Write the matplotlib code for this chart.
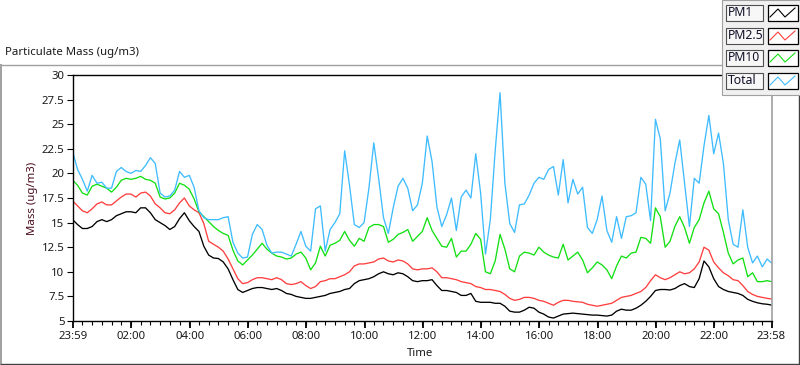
import numpy as np
import matplotlib
matplotlib.use('Agg')
import matplotlib.pyplot as plt
from matplotlib.patches import Rectangle

# ---------------- data (minutes after 23:59, 10-minute readings) ----------------
minutes = list(range(0, 1440, 10)) + [1439]

pm1 = [15.3, 14.8, 14.4, 14.4, 14.6, 15.1, 15.3, 15.1, 15.3, 15.7,
       15.9, 16.1, 16.1, 16.0, 16.5, 16.5, 16.0, 15.3, 15.0, 14.7,
       14.3, 14.6, 15.4, 16.0, 15.2, 14.6, 14.1, 12.6, 11.7, 11.4,
       11.35, 11.0, 10.3, 9.2, 8.2, 7.9, 8.1, 8.3, 8.4, 8.4,
       8.3, 8.2, 8.3, 8.1, 7.8, 7.7, 7.5, 7.4, 7.3, 7.3,
       7.4, 7.5, 7.6, 7.8, 7.9, 8.0, 8.2, 8.3, 8.8, 9.1,
       9.2, 9.3, 9.5, 9.8, 10.0, 9.8, 9.7, 9.9, 9.8, 9.5,
       9.1, 9.0, 9.1, 9.1, 9.2, 8.6, 8.1, 8.1, 8.0, 7.9,
       7.6, 7.6, 7.8, 7.0, 6.9, 6.9, 6.9, 6.8, 6.8, 6.5,
       6.0, 5.9, 5.9, 6.1, 6.4, 6.3, 5.9, 5.7, 5.4, 5.3,
       5.5, 5.7, 5.75, 5.8, 5.75, 5.7, 5.65, 5.6, 5.6, 5.55,
       5.5, 5.6, 6.0, 6.2, 6.1, 6.1, 6.3, 6.6, 7.0, 7.5,
       8.1, 8.2, 8.2, 8.15, 8.3, 8.6, 8.8, 8.5, 8.4, 9.3,
       11.1, 10.5, 9.3, 8.5, 8.2, 8.0, 7.9, 7.8, 7.6, 7.2,
       7.0, 6.85, 6.75, 6.7, 6.62]

pm25 = [17.2, 16.7, 16.2, 16.0, 16.4, 16.9, 17.1, 16.8, 16.8, 17.2,
        17.6, 17.9, 17.9, 17.6, 18.0, 18.1, 17.7, 16.9, 16.5, 16.0,
        15.9, 16.3, 17.0, 17.5, 16.7, 16.3, 16.0, 14.9, 13.1, 12.8,
        12.5, 12.1, 11.3, 10.3, 9.3, 8.8, 8.9, 9.2, 9.4, 9.4,
        9.3, 9.2, 9.4, 9.2, 8.8, 8.7, 8.8, 9.0, 8.6, 8.3,
        8.5, 9.0, 9.1, 9.3, 9.3, 9.5, 9.7, 10.0, 10.6, 10.8,
        10.8, 10.9, 11.0, 11.3, 11.4, 11.1, 11.0, 11.2, 11.1, 10.8,
        10.3, 10.2, 10.3, 10.3, 10.4, 10.0, 9.4, 9.4, 9.3, 9.2,
        9.0, 8.9, 8.8, 8.5, 8.4, 8.2, 8.2, 8.1, 8.0, 7.7,
        7.3, 7.1, 7.2, 7.4, 7.4, 7.3, 7.1, 7.0, 6.8, 6.6,
        6.9, 7.1, 7.1, 7.0, 6.95, 6.9, 6.7, 6.6, 6.5, 6.6,
        6.7, 6.8, 7.1, 7.4, 7.5, 7.6, 7.8, 8.0, 8.4, 9.1,
        9.7, 9.4, 9.2, 9.4, 9.7, 10.0, 9.8, 9.9, 10.3, 11.0,
        12.5, 12.2, 11.0, 10.4, 9.9, 9.6, 9.2, 9.1, 8.6, 8.0,
        7.7, 7.5, 7.4, 7.3, 7.24]

pm10 = [19.3, 18.8, 18.0, 17.8, 18.7, 18.9, 18.7, 18.5, 18.1, 18.6,
        19.3, 19.5, 19.4, 19.5, 19.7, 19.4, 19.3, 19.0, 17.6, 17.4,
        17.5, 18.0, 19.0, 18.8, 18.4, 17.4, 16.1, 15.6, 15.1, 14.6,
        14.2, 13.9, 13.7, 12.2, 11.1, 10.7, 11.2, 11.7, 12.3, 12.9,
        12.3, 11.9, 11.6, 11.5, 11.3, 11.4, 11.8, 12.0, 11.4, 10.2,
        10.9, 12.6, 11.6, 12.7, 12.9, 13.2, 14.1, 13.2, 12.6, 13.4,
        13.1, 14.5, 14.8, 14.8, 14.6, 13.0, 13.3, 13.8, 14.0, 14.3,
        13.1, 13.6, 14.1, 15.5, 14.2, 13.4, 12.6, 12.5, 13.4, 11.5,
        12.1, 12.1, 12.8, 13.9, 13.3, 10.0, 9.8, 11.1, 13.8, 12.3,
        10.3, 10.0, 11.6, 12.0, 11.9, 11.7, 12.5, 12.0, 11.7, 11.5,
        11.4, 12.8, 11.2, 11.6, 12.0, 11.2, 9.9, 10.4, 11.0, 10.7,
        10.2, 9.3, 10.6, 11.6, 11.4, 11.9, 12.0, 13.5, 13.4, 12.9,
        16.5, 15.6, 12.5, 13.1, 14.6, 15.6, 14.5, 12.9, 14.5, 15.3,
        17.0, 18.2, 16.4, 15.9, 14.0, 11.9, 10.8, 11.2, 11.4, 9.5,
        9.9, 9.0, 9.0, 9.1, 9.0]

total = [22.2, 20.4, 19.4, 18.2, 19.8, 19.0, 19.1, 18.5, 18.5, 20.2,
         20.6, 20.2, 20.0, 20.3, 20.2, 20.8, 21.6, 21.0, 18.0, 17.6,
         17.7, 18.3, 20.2, 19.6, 19.8, 18.6, 16.2, 15.5, 15.3, 15.3,
         15.3, 15.5, 15.6, 13.0, 11.9, 11.4, 11.5, 13.8, 14.8, 14.3,
         12.7, 11.9, 12.0, 12.0, 11.8, 11.6, 12.8, 14.1, 12.6, 12.1,
         16.4, 16.7, 12.1, 14.3, 15.0, 15.9, 22.3, 18.8, 14.8, 14.5,
         15.0, 18.5, 23.1, 19.5, 15.5, 13.9, 16.5, 18.7, 19.5, 18.5,
         16.2, 16.8, 19.0, 23.8, 21.2, 16.6, 14.6, 15.8, 17.5, 14.2,
         17.6, 18.3, 17.5, 22.0, 18.0, 11.8, 15.3, 22.3, 28.2, 19.0,
         14.9, 14.0, 16.8, 16.9, 17.8, 19.0, 19.6, 19.4, 20.4, 20.7,
         17.8, 21.4, 17.0, 19.4, 17.9, 18.6, 14.5, 13.9, 15.3, 17.7,
         14.2, 13.0, 15.6, 13.4, 15.6, 15.7, 16.0, 19.6, 18.9, 15.2,
         25.5, 23.5, 16.2, 18.0, 21.0, 23.4, 19.0, 14.6, 19.5, 19.0,
         22.8, 25.9, 22.0, 24.1, 21.0, 15.3, 12.8, 12.5, 16.3, 12.5,
         10.9, 11.6, 10.5, 11.3, 10.9]

series_names = ['PM1', 'PM2.5', 'PM10', 'Total']
series_colors = ['#000000', '#ff3f3f', '#13e013', '#3fbcff']

major_ticks = [0, 121, 241, 361, 481, 601, 721, 841, 961, 1081, 1201, 1321, 1439]
major_labels = ['23:59', '02:00', '04:00', '06:00', '08:00', '10:00', '12:00',
                '14:00', '16:00', '18:00', '20:00', '22:00', '23:58']
minor_ticks = list(range(0, 1440, 20))
y_ticks = [5, 7.5, 10, 12.5, 15, 17.5, 20, 22.5, 25, 27.5, 30]
y_labels = ['5', '7.5', '10', '12.5', '15', '17.5', '20', '22.5', '25', '27.5', '30']

# ---------------- figure ----------------
W, H = 800, 365
FS = 8.2
plt.rcParams['font.family'] = ['Noto Sans', 'DejaVu Sans']
fig = plt.figure(figsize=(W / 100, H / 100), dpi=100)
fig.patch.set_facecolor('white')

# background pixel-coordinate layer
bg = fig.add_axes([0, 0, 1, 1], zorder=0)
bg.set_xlim(0, W)
bg.set_ylim(H, 0)
bg.axis('off')
bg.plot([0.5, 722], [64.5, 64.5], color='#a0a0a0', lw=1.0)
bg.plot([0.8, 0.8], [64.5, 363.5], color='#a0a0a0', lw=1.4)
bg.plot([0.5, 799.5], [363.5, 363.5], color='#404040', lw=1.0)
bg.plot([799.2, 799.2], [95, 363.5], color='#404040', lw=1.0)
bg.text(5, 53, 'Particulate Mass (ug/m3)', ha='left', va='center',
        fontsize=FS, color='#1a1a1a')
bg.text(33, 198, 'Mass (ug/m3)', ha='center', va='center', rotation=90,
        fontsize=FS, color='#4a0c1c')
bg.text(420, 354, 'Time', ha='center', va='center', fontsize=FS, color='#1a1a1a')

# main plot
left, right, top, bottom = 72.7, 771.5, 75, 321
ax = fig.add_axes([left / W, 1 - bottom / H, (right - left) / W, (bottom - top) / H], zorder=1)
ax.set_facecolor('white')
for name, vals, col in zip(series_names, [pm1, pm25, pm10, total], series_colors):
    ax.plot(minutes, vals, color=col, lw=0.95, label=name)
ax.set_xlim(0, 1439)
ax.set_ylim(5, 30)
ax.set_xticks(major_ticks)
ax.set_xticklabels(major_labels)
ax.set_xticks(minor_ticks, minor=True)
ax.set_yticks(y_ticks)
ax.set_yticklabels(y_labels)
ax.tick_params(axis='x', which='major', length=5, width=1.3, pad=2,
               labelsize=FS, labelcolor='#1a1a1a', color='#000000')
ax.tick_params(axis='x', which='minor', length=3, width=0.8, color='#000000')
ax.tick_params(axis='y', which='major', length=4, width=0.8, pad=2,
               labelsize=FS, labelcolor='#1a1a1a', color='#000000')
for s in ['left', 'top', 'bottom']:
    ax.spines[s].set_color('#000000')
    ax.spines[s].set_linewidth(1.0)
ax.spines['right'].set_color('#a0a0a0')
ax.spines['right'].set_linewidth(1.2)

# legend overlay (pixel coords)
lg = fig.add_axes([0, 0, 1, 1], zorder=2)
lg.set_xlim(0, W)
lg.set_ylim(H, 0)
lg.axis('off')
lg.add_patch(Rectangle((722, 0), 78, 95, facecolor='#f0f0f0', edgecolor='#a0a0a0', lw=0.8))
row_tops = [4, 27, 49, 72]
for name, col, y0 in zip(series_names, series_colors, row_tops):
    lg.add_patch(Rectangle((725.5, y0 + 0.5), 37.5, 16, facecolor='#f7f7f7',
                           edgecolor='#505050', lw=0.8))
    lg.text(727.5, y0 + 8.8, name, ha='left', va='center', fontsize=8.8, color='#101028')
    lg.add_patch(Rectangle((767.5, y0 + 0.5), 30.5, 16, facecolor='white',
                           edgecolor='#000000', lw=0.9))
    lg.plot([770, 778, 785, 795], [y0 + 13, y0 + 5, y0 + 13, y0 + 4], color=col, lw=0.8)

fig.savefig('out.png', dpi=100, facecolor='white')
